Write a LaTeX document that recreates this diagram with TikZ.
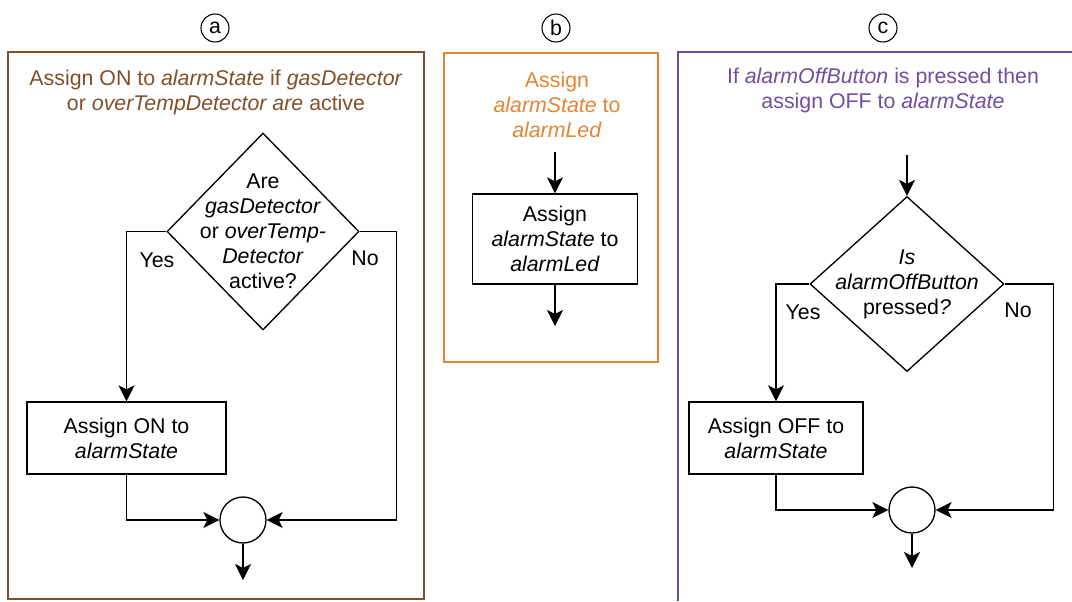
\documentclass[tikz,border=0pt]{standalone}
\usepackage{fontspec}
\setmainfont{Liberation Sans}
\usetikzlibrary{shapes.geometric,arrows.meta}
\definecolor{frameA}{RGB}{128,80,40}
\definecolor{frameB}{RGB}{228,132,52}
\definecolor{frameC}{RGB}{112,78,160}
\tikzset{
  box/.style={draw,line width=1pt,align=center,inner sep=2pt},
  decision/.style={draw,diamond,line width=1pt,align=center,inner sep=-18pt},
  joint/.style={draw,circle,line width=1pt,minimum size=34.5pt,inner sep=0pt},
  tag/.style={draw,circle,line width=0.8pt,minimum size=21pt,inner sep=0pt},
  flow/.style={line width=1pt,-{Stealth[length=12pt,width=12pt,inset=3pt]}},
  heading/.style={align=center}
}

\begin{document}
\begin{tikzpicture}[x=0.75pt,y=-0.75pt,font=\fontsize{16}{18.75}\selectfont]
    \useasboundingbox (0,0) rectangle (1072,601);

    \draw[frameA,line width=1pt] (8,52) rectangle (424,599);
    \node[tag] (tagA) at (215,28) {a};
    \node[heading,text=frameA] (headA) at (216,92.5) {Assign ON to \textit{alarmState} if \textit{gasDetector}\\or \textit{overTempDetector are} active};
    \node[decision,minimum width=144pt,minimum height=147.75pt] (decA) at (263,231.5) {Are\\\textit{gasDetector}\\or \textit{overTemp-}\\\textit{Detector}\\active?};
    \node[box,minimum width=149.25pt,minimum height=54pt] (boxA) at (126.5,438) {Assign ON to\\\textit{alarmState}};
    \node[joint] (joinA) at (243,520) {};
    \coordinate (outA) at (243,580);
    \node (yesA) at (157,260) {Yes};
    \node (noA) at (365,258) {No};
    \draw[flow] (decA.west) -| (boxA.north);
    \draw[flow] (decA.east) -- ++(37,0) |- (joinA.east);
    \draw[flow] (boxA.south) |- (joinA.west);
    \draw[flow] (joinA.south) -- (outA);

    \draw[frameB,line width=1pt] (444,53) rectangle (658,362);
    \node[tag] (tagB) at (556,28) {b};
    \node[heading,text=frameB] (headB) at (557,105) {Assign\\\textit{alarmState} to\\\textit{alarmLed}};
    \coordinate (inB) at (555,152);
    \node[box,minimum width=123.75pt,minimum height=67.5pt] (boxB) at (555,239) {Assign\\\textit{alarmState} to\\\textit{alarmLed}};
    \coordinate (outB) at (555,326);
    \draw[flow] (inB) -- (boxB.north);
    \draw[flow] (boxB.south) -- (outB);

    \draw[frameC,line width=1pt] (678,601) -- (678,52) -- (1072,52);
    \node[tag] (tagC) at (883,28) {c};
    \node[heading,text=frameC] (headC) at (883,90.5) {If \textit{alarmOffButton} is pressed then\\assign OFF to \textit{alarmState}};
    \coordinate (inC) at (907,155);
    \node[decision,minimum width=145.5pt,minimum height=131.25pt] (decC) at (907,284) {\textit{Is}\\\textit{alarmOffButton}\\pressed\textit{?}};
    \node[box,minimum width=130.5pt,minimum height=54pt] (boxC) at (776,438) {Assign OFF to\\\textit{alarmState}};
    \node[joint] (joinC) at (912,510) {};
    \coordinate (outC) at (912,568);
    \node (yesC) at (803,312) {Yes};
    \node (noC) at (1018,310) {No};
    \draw[flow] (inC) -- (decC.north);
    \draw[flow] (decC.west) -| (boxC.north);
    \draw[flow] (decC.east) -- ++(49,0) |- (joinC.east);
    \draw[flow] (boxC.south) |- (joinC.west);
    \draw[flow] (joinC.south) -- (outC);
\end{tikzpicture}
\end{document}
